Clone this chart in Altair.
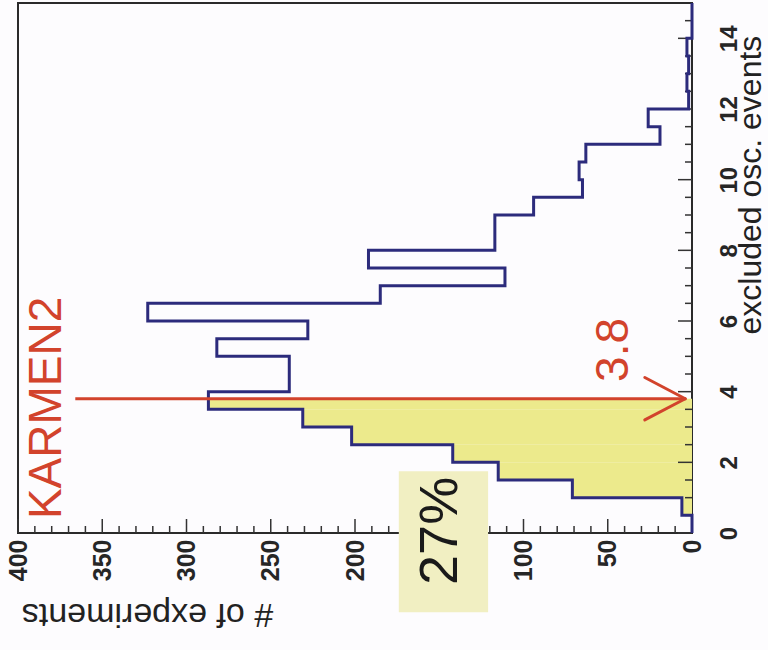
import altair as alt
import pandas as pd

# Histogram of simulated experiments: bin start (excluded osc. events) and entries
bin_starts = [0.0, 0.5, 1.0, 1.5, 2.0, 2.5, 3.0, 3.5, 4.0, 4.5,
              5.0, 5.5, 6.0, 6.5, 7.0, 7.5, 8.0, 8.5, 9.0, 9.5,
              10.0, 10.5, 11.0, 11.5, 12.0, 12.5, 13.0, 13.5, 14.0, 14.5]
counts = [0, 6, 71, 115, 142, 202, 231, 287, 239, 239,
          282, 228, 323, 185, 111, 192, 117, 117, 94, 65,
          67, 63, 19, 26, 2, 3, 2, 3, 0, 0]
BIN_WIDTH = 0.5

# KARMEN2 value and the fraction of experiments below it
karmen_value = 3.8
karmen_label = "3.8"
fraction_label = "27%"
experiment_label = "KARMEN2"

# Axis ticks
count_major = [0, 50, 100, 150, 200, 250, 300, 350, 400]
count_minor = [10, 20, 30, 40, 60, 70, 80, 90, 110, 120, 130, 140, 160, 170, 180, 190,
               210, 220, 230, 240, 260, 270, 280, 290, 310, 320, 330, 340, 360, 370, 380, 390]
event_major = [0, 2, 4, 6, 8, 10, 12, 14]
event_minor = [0.5, 1, 1.5, 2.5, 3, 3.5, 4.5, 5, 5.5, 6.5, 7, 7.5, 8.5, 9, 9.5,
               10.5, 11, 11.5, 12.5, 13, 13.5, 14.5]

NAVY = "#2c2b7c"
RED = "#d2432c"
YELLOW = "#ecea8c"
BOX = "#f1efc2"
FONT = "Liberation Sans"

# Step outline: two points per bin (bin start and bin end at the same count)
outline_rows = []
for k, (s, c) in enumerate(zip(bin_starts, counts)):
    outline_rows.append({"n": c, "e": s, "k": 2 * k})
    outline_rows.append({"n": c, "e": s + BIN_WIDTH, "k": 2 * k + 1})
outline = pd.DataFrame(outline_rows)

# Shaded part of the histogram, below the KARMEN2 value
fill = pd.DataFrame([
    {"n": c, "e": s, "e2": min(s + BIN_WIDTH, karmen_value)}
    for s, c in zip(bin_starts, counts) if s < karmen_value
])

xs = alt.Scale(domain=[0, 400], reverse=True, nice=False, zero=False)
ys = alt.Scale(domain=[0, 15], nice=False, zero=False)

x_axis = alt.Axis(
    orient="bottom", values=count_major, labelAngle=270, labelFontSize=25,
    labelFont=FONT, labelFontWeight="bold", labelColor="#262626", labelPadding=6,
    labelOverlap=False, labelFlush=False, ticks=False, domain=False, grid=False,
    title="# of experiments", titleFont=FONT, titleFontSize=34,
    titleFontWeight="normal", titleColor="#222", titleAngle=180,
    titleAlign="center", titleBaseline="alphabetic", titleX=129, titleY=70,
)
y_axis = alt.Axis(
    orient="right", values=event_major, labelAngle=270, labelFontSize=24,
    labelFont=FONT, labelFontWeight="bold", labelColor="#262626", labelPadding=25,
    labelAlign="center", labelBaseline="top", labelOverlap=False, labelFlush=False,
    ticks=False, domain=False, grid=False,
    title="excluded osc. events", titleFont=FONT, titleFontSize=32,
    titleFontWeight="normal", titleColor="#222", titleAngle=270,
    titleAlign="left", titleBaseline="alphabetic", titleX=68, titleY=331,
)

base = alt.Chart(outline)

shade = alt.Chart(fill).mark_rect(color=YELLOW).encode(
    x=alt.X("n:Q", scale=xs, axis=x_axis),
    x2=alt.datum(0),
    y=alt.Y("e:Q", scale=ys, axis=y_axis),
    y2="e2:Q",
)

hist = base.mark_line(color=NAVY, strokeWidth=3, strokeJoin="miter").encode(
    x=alt.X("n:Q", scale=xs),
    y=alt.Y("e:Q", scale=ys),
    order="k:Q",
)

# Inward ticks on the bottom and right edges
def bottom_ticks(values, length):
    return alt.Chart(pd.DataFrame({"v": values})).mark_rule(
        color="#333", strokeWidth=1.5, y2Offset=-length
    ).encode(x=alt.X("v:Q", scale=xs), y=alt.datum(0), y2=alt.datum(0))

def right_ticks(values, length):
    return alt.Chart(pd.DataFrame({"v": values})).mark_rule(
        color="#333", strokeWidth=1.5, x2Offset=-length
    ).encode(y=alt.Y("v:Q", scale=ys), x=alt.datum(0), x2=alt.datum(0))

ticks = (bottom_ticks(count_major, 14) + bottom_ticks(count_minor, 7)
         + right_ticks(event_major, 14) + right_ticks(event_minor, 7))

# Label box for the fraction
box = alt.Chart(pd.DataFrame({"a": [121], "b": [174], "c": [-2.24], "d": [1.75]})).mark_rect(
    color=BOX
).encode(x=alt.X("a:Q", scale=xs), x2="b:Q", y=alt.Y("c:Q", scale=ys), y2="d:Q")

frac_text = alt.Chart(pd.DataFrame({"n": [149], "e": [0.06], "t": [fraction_label]})).mark_text(
    angle=270, fontSize=54, font=FONT, color="#1a1a1a", align="center", baseline="middle"
).encode(x=alt.X("n:Q", scale=xs), y=alt.Y("e:Q", scale=ys), text="t:N")

# KARMEN2 arrow
arrow_line = alt.Chart(pd.DataFrame({"a": [366], "b": [4], "e": [karmen_value]})).mark_rule(
    color=RED, strokeWidth=3
).encode(x=alt.X("a:Q", scale=xs), x2="b:Q", y=alt.Y("e:Q", scale=ys))

arrow_head = alt.Chart(pd.DataFrame({
    "a": [4, 4], "b": [28, 28],
    "e": [karmen_value, karmen_value], "f": [karmen_value + 0.6, karmen_value - 0.6],
})).mark_rule(color=RED, strokeWidth=3, strokeCap="round").encode(
    x=alt.X("a:Q", scale=xs), x2="b:Q", y=alt.Y("e:Q", scale=ys), y2="f:Q"
)

red_texts = alt.Chart(pd.DataFrame({
    "n": [383, 46], "e": [3.54, 5.18], "t": [experiment_label, karmen_label],
})).mark_text(
    angle=270, fontSize=46, font=FONT, color=RED, align="center", baseline="middle"
).encode(x=alt.X("n:Q", scale=xs), y=alt.Y("e:Q", scale=ys), text="t:N")

chart = alt.layer(
    shade, ticks, hist, box, frac_text, arrow_line, arrow_head, red_texts
).properties(
    width=674, height=530, autosize="none",
    padding={"left": 18, "top": 3, "right": 76, "bottom": 117},
    background="#fdfcfe",
).configure_view(stroke="#2a2a2a", strokeWidth=2)

chart.save("out.html", embed_options={"renderer": "svg", "actions": False})
